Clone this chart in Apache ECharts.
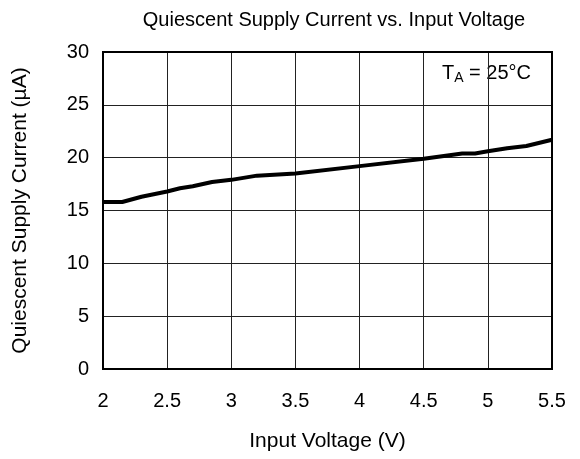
<!DOCTYPE html>
<html><head><meta charset="utf-8">
<script src="https://cdn.jsdelivr.net/npm/echarts@6/dist/echarts.min.js"></script>
<style>html,body{margin:0;padding:0;background:#fff}#c{width:580px;height:459px}</style>
</head><body><div id="c"></div>
<script>
var voltage = [2.0, 2.15, 2.3, 2.5, 2.6, 2.7, 2.85, 3.0, 3.2, 3.5, 4.0, 4.5, 4.8, 4.9, 5.0, 5.15, 5.3, 5.5];
var current = [15.8, 15.8, 16.3, 16.8, 17.1, 17.3, 17.7, 17.9, 18.3, 18.5, 19.2, 19.9, 20.4, 20.4, 20.6, 20.9, 21.1, 21.7];
var xTicks = [2, 2.5, 3, 3.5, 4, 4.5, 5, 5.5];
var yTicks = [0, 5, 10, 15, 20, 25, 30];

var chart = echarts.init(document.getElementById('c'));
var F = 'Liberation Sans, Arial, sans-serif';
chart.setOption({
  animation: false,
  title: {
    text: 'Quiescent Supply Current vs. Input Voltage',
    left: 329, top: 5, textAlign: 'center',
    textStyle: {fontFamily: F, fontSize: 20, fontWeight: 'normal', color: '#000'}
  },
  graphic: [{
    type: 'text', left: 442, top: 63,
    style: {
      text: '{t|T}{s|A}{t| = 25°C}',
      rich: {
        t: {fontFamily: F, fontSize: 20, fill: '#000'},
        s: {fontFamily: F, fontSize: 14, fill: '#000', verticalAlign: 'bottom', padding: [10, 0, 0, 0]}
      }
    }
  }],
  grid: {left: 103, right: 28, top: 52, bottom: 90},
  xAxis: {
    type: 'value', min: 2, max: 5.5, interval: 0.5,
    name: 'Input Voltage (V)', nameLocation: 'middle', nameGap: 62,
    nameTextStyle: {fontFamily: F, fontSize: 21, color: '#000'},
    axisLine: {show: false},
    axisTick: {show: false},
    axisLabel: {fontFamily: F, fontSize: 20, color: '#000', margin: 22,
      formatter: function (v) { return xTicks.indexOf(v) >= 0 ? String(v) : ''; }},
    splitLine: {show: true, lineStyle: {color: '#222', width: 1}}
  },
  yAxis: {
    type: 'value', min: 0, max: 30, interval: 5,
    name: 'Quiescent Supply Current (µA)', nameLocation: 'middle', nameGap: 72,
    nameTextStyle: {fontFamily: F, fontSize: 21, color: '#000'},
    axisLine: {show: false},
    axisTick: {show: false},
    axisLabel: {fontFamily: F, fontSize: 20, color: '#000', margin: 14,
      formatter: function (v) { return yTicks.indexOf(v) >= 0 ? String(v) : ''; }},
    splitLine: {show: true, lineStyle: {color: '#222', width: 1}}
  },
  series: [{
    type: 'line', showSymbol: false, symbol: 'none',
    data: voltage.map(function (v, i) { return [v, current[i]]; }),
    lineStyle: {color: '#000', width: 4},
    z: 5
  }, {
    type: 'line', silent: true, symbol: 'none', data: [],
    markArea: {silent: true, itemStyle: {color: 'transparent', borderColor: '#000', borderWidth: 2},
      data: [[{coord: [2, 0]}, {coord: [5.5, 30]}]]}
  }]
});
</script></body></html>
